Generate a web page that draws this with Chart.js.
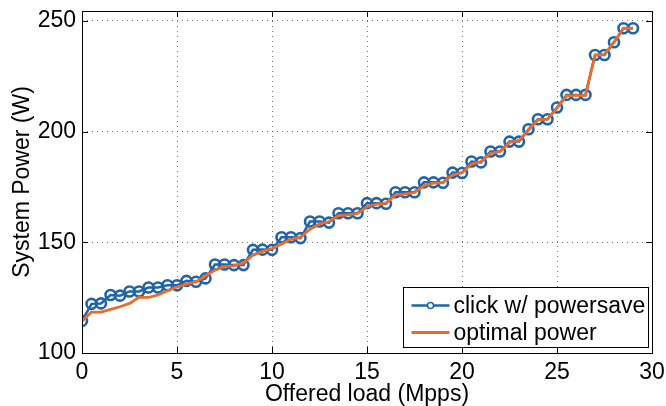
<!DOCTYPE html>
<html>
<head>
<meta charset="utf-8">
<script src="https://cdn.jsdelivr.net/npm/chart.js@4.4.1/dist/chart.umd.min.js"></script>
<style>
  html, body { margin: 0; padding: 0; background: #fff; }
  canvas { display: block; }
</style>
</head>
<body>
<canvas id="powerChart" width="666" height="406"></canvas>
<script>
// Offered load (Mpps) sample points
const offeredLoad = [0, 0.5, 1, 1.5, 2, 2.5, 3, 3.5, 4, 4.5, 5, 5.5, 6, 6.5, 7, 7.5, 8, 8.5, 9, 9.5,
    10, 10.5, 11, 11.5, 12, 12.5, 13, 13.5, 14, 14.5, 15, 15.5, 16, 16.5, 17, 17.5, 18, 18.5, 19, 19.5,
    20, 20.5, 21, 21.5, 22, 22.5, 23, 23.5, 24, 24.5, 25, 25.5, 26, 26.5, 27, 27.5, 28, 28.5, 29];

// System power (W) -- click w/ powersave
const clickPower = [114.5, 122.2, 122.4, 126.2, 125.9, 127.8, 127.8, 129.6, 129.6, 130.6,
    130.6, 132.6, 132.2, 133.7, 140.0, 140.0, 139.7, 139.7, 146.6, 146.7,
    146.6, 152.3, 152.3, 151.9, 159.4, 159.4, 158.9, 163.1, 163.1, 163.1,
    167.7, 167.7, 167.4, 172.6, 172.6, 172.6, 177.1, 177.1, 176.9, 181.5,
    181.3, 186.5, 186.1, 191.0, 191.0, 195.5, 195.5, 201.1, 205.6, 205.6,
    210.9, 216.6, 216.6, 216.6, 234.6, 234.6, 240.4, 246.7, 246.7];

// System power (W) -- optimal power
const optimalPower = [114.5, 118.5, 118.5, 119.7, 120.9, 122.4, 125.1, 125.1, 126.2, 128.1,
    129.8, 131.1, 132.2, 134.8, 137.5, 139.0, 139.5, 140.6, 144.3, 145.9,
    147.2, 149.3, 151.4, 152.3, 155.9, 158.3, 159.4, 162.1, 162.4, 163.1,
    166.1, 167.2, 167.7, 171.4, 171.9, 172.5, 175.6, 176.7, 177.0, 180.5,
    181.4, 185.4, 186.5, 190.2, 191.0, 195.1, 196.0, 200.6, 205.3, 205.6,
    210.6, 216.2, 216.4, 216.4, 234.6, 234.9, 240.4, 246.7, 246.7];

const xTicks = [0, 5, 10, 15, 20, 25, 30];
const yTicks = [100, 150, 200, 250];

const BLUE = '#1f64ab';
const ORANGE = '#ec6b2a';
const FONT = 'Liberation Sans, Arial, Helvetica, sans-serif';
const FONT_SIZE = 23;

const toPoints = ys => offeredLoad.map((x, i) => ({ x: x, y: ys[i] }));

// matlab style box, inward ticks and legend inside the axes
const matlabAxes = {
    id: 'matlabAxes',
    afterDatasetsDraw(chart) {
        const ctx = chart.ctx;
        const area = chart.chartArea;
        const xs = chart.scales.x, ys = chart.scales.y;
        const tickLen = 6;
        ctx.save();
        ctx.strokeStyle = '#000';
        ctx.lineWidth = 1;
        ctx.beginPath();
        xTicks.forEach(v => {
            const px = Math.round(xs.getPixelForValue(v)) + 0.5;
            ctx.moveTo(px, area.bottom); ctx.lineTo(px, area.bottom - tickLen);
            ctx.moveTo(px, area.top); ctx.lineTo(px, area.top + tickLen);
        });
        yTicks.forEach(v => {
            const py = Math.round(ys.getPixelForValue(v)) + 0.5;
            ctx.moveTo(area.left, py); ctx.lineTo(area.left + tickLen, py);
            ctx.moveTo(area.right, py); ctx.lineTo(area.right - tickLen, py);
        });
        ctx.stroke();
        ctx.strokeRect(Math.round(area.left) + 0.5, Math.round(area.top) + 0.5,
            Math.round(area.right - area.left), Math.round(area.bottom - area.top));

        // legend
        const boxW = 245, boxH = 60;
        const bx = Math.round(area.right - 4 - boxW) + 0.5;
        const by = Math.round(area.bottom - 6 - boxH) + 0.5;
        ctx.fillStyle = '#fff';
        ctx.fillRect(bx, by, boxW, boxH);
        ctx.strokeRect(bx, by, boxW, boxH);
        ctx.font = FONT_SIZE + 'px ' + FONT;
        ctx.textBaseline = 'middle';
        chart.data.datasets.forEach((ds, i) => {
            const rowY = by + 18 + i * 27;
            ctx.strokeStyle = ds.borderColor;
            ctx.lineWidth = ds.borderWidth;
            ctx.beginPath();
            ctx.moveTo(bx + 8, rowY); ctx.lineTo(bx + 46, rowY);
            ctx.stroke();
            if (ds.pointRadius > 0) {
                ctx.lineWidth = 1.5;
                ctx.beginPath();
                ctx.arc(bx + 27, rowY, 3, 0, Math.PI * 2);
                ctx.fillStyle = '#fff';
                ctx.fill();
                ctx.stroke();
            }
            ctx.fillStyle = '#000';
            ctx.fillText(ds.label, bx + 50, rowY + 1);
        });
        ctx.restore();
    }
};

const gridStyle = {
    color: 'rgba(0,0,0,0.55)',
    lineWidth: 1,
    drawTicks: false
};

new Chart(document.getElementById('powerChart').getContext('2d'), {
    type: 'line',
    data: {
        datasets: [
            {
                label: 'click w/ powersave',
                data: toPoints(clickPower),
                borderColor: BLUE,
                backgroundColor: 'rgba(0,0,0,0)',
                borderWidth: 2.5,
                pointRadius: 5,
                pointBorderWidth: 2.6,
                pointBackgroundColor: 'rgba(0,0,0,0)',
                pointBorderColor: BLUE,
                tension: 0,
                order: 2
            },
            {
                label: 'optimal power',
                data: toPoints(optimalPower),
                borderColor: ORANGE,
                backgroundColor: ORANGE,
                borderWidth: 2.8,
                pointRadius: 0,
                tension: 0,
                order: 1
            }
        ]
    },
    options: {
        responsive: false,
        animation: false,
        layout: { padding: { top: 11, right: 14, left: 0, bottom: 0 } },
        plugins: {
            legend: { display: false },
            tooltip: { enabled: false }
        },
        scales: {
            x: {
                type: 'linear',
                min: 0,
                max: 30,
                afterBuildTicks: axis => { axis.ticks = xTicks.map(v => ({ value: v })); },
                afterFit: scale => {
                    scale.height = 53;
                    scale.paddingLeft = 0;
                    scale.paddingRight = 0;
                },
                grid: gridStyle,
                border: { display: false, dash: [1, 4] },
                ticks: { color: '#000', padding: 6, maxRotation: 0, font: { family: FONT, size: FONT_SIZE } },
                title: {
                    display: true,
                    text: 'Offered load (Mpps)',
                    color: '#000',
                    padding: 0,
                    font: { family: FONT, size: FONT_SIZE, lineHeight: 1 }
                }
            },
            y: {
                type: 'linear',
                min: 100,
                max: 254.5,
                afterBuildTicks: axis => { axis.ticks = yTicks.map(v => ({ value: v })); },
                afterFit: scale => {
                    scale.width = 82;
                    scale.paddingTop = 0;
                    scale.paddingBottom = 0;
                },
                grid: gridStyle,
                border: { display: false, dash: [1, 4] },
                ticks: { color: '#000', padding: 6, font: { family: FONT, size: FONT_SIZE } },
                title: {
                    display: true,
                    text: 'System Power (W)',
                    color: '#000',
                    padding: { top: 11, bottom: 0 },
                    font: { family: FONT, size: FONT_SIZE, lineHeight: 1 }
                }
            }
        }
    },
    plugins: [matlabAxes]
});
</script>
</body>
</html>
